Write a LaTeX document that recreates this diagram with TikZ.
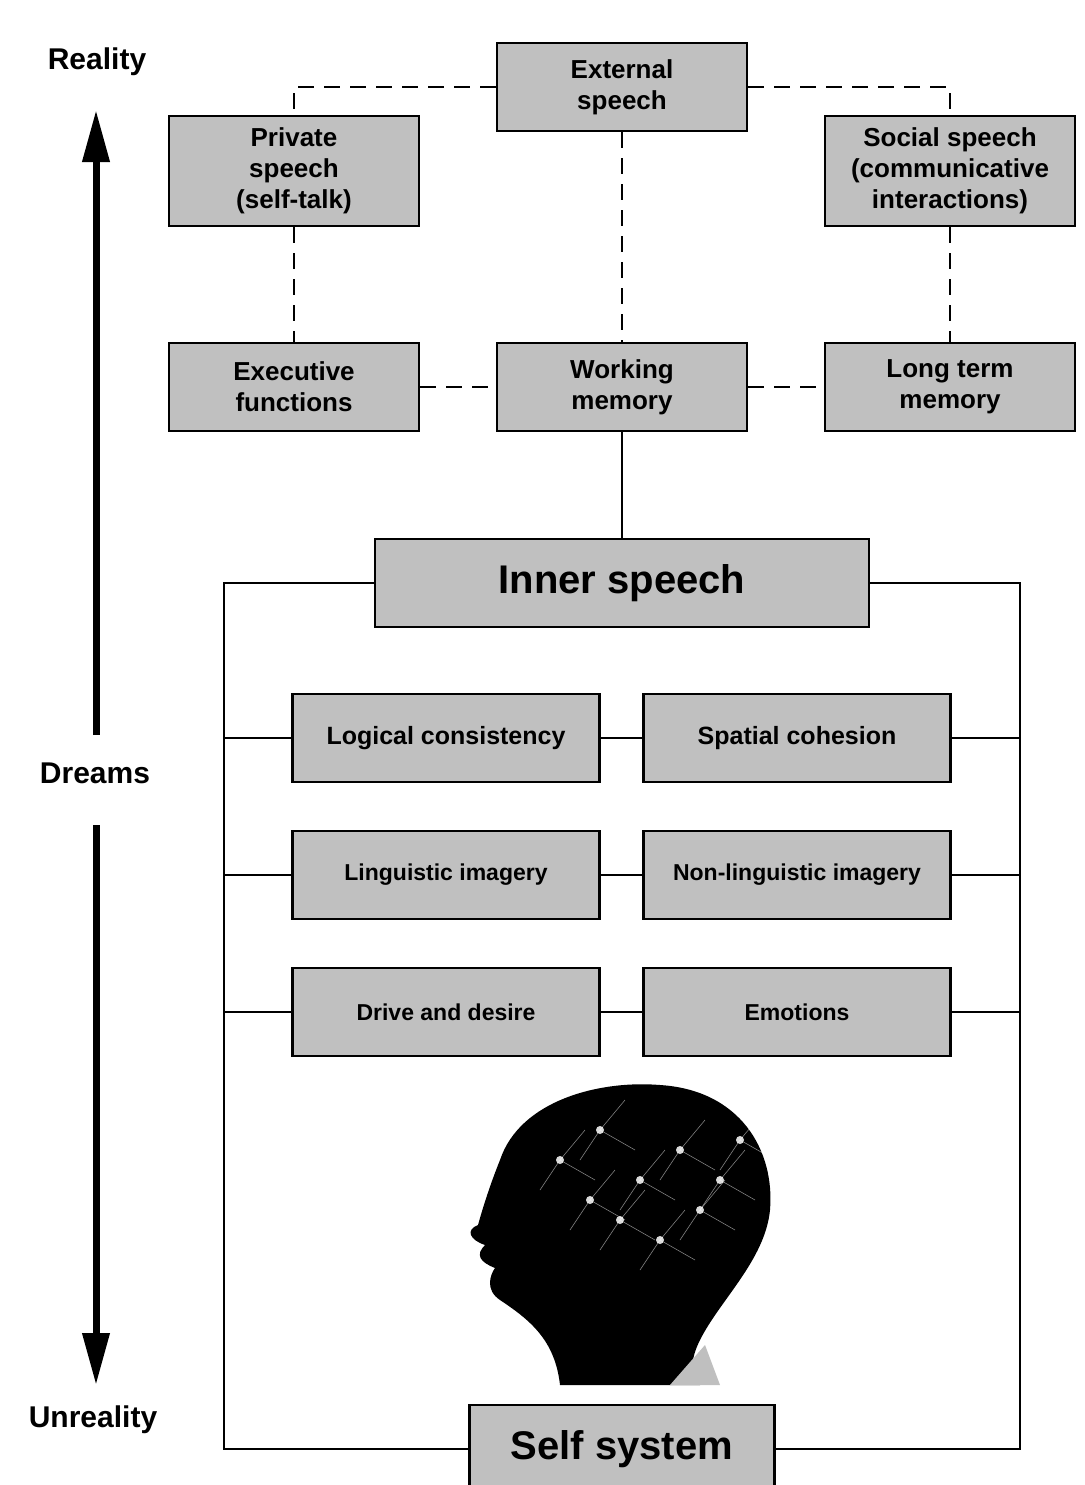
\documentclass[tikz,border=0pt]{standalone}
\usepackage{fontspec}
\setmainfont{Liberation Sans}
\usetikzlibrary{arrows.meta}
\tikzset{
  box/.style={draw, line width=2.4pt, fill={rgb,255:red,192;green,192;blue,192}, align=center, font=\bfseries\fontsize{26}{31}\selectfont, minimum width=250, minimum height=88, inner sep=0pt},
  wbox/.style={box, minimum width=307, font=\bfseries\fontsize{23}{27}\selectfont},
  dashlink/.style={line width=2.4pt, dash pattern=on 16pt off 10pt},
  link/.style={line width=2.4pt},
  side/.style={font=\bfseries\fontsize{30}{34}\selectfont}
}
\begin{document}
\begin{tikzpicture}[x=1pt,y=-1pt]
\useasboundingbox (0,0) rectangle (1084,1485);

% upper level
\node[box] (ext) at (622,87) {External\\speech};
\node[box, minimum height=110] (priv) at (294,171) {Private\\speech\\(self-talk)};
\node[box, minimum height=110] (soc) at (950,171) {Social speech\\(communicative\\interactions)};
\node[box] (exe) at (294,387) {Executive\\functions};
\node[box] (wm) at (622,387) {Working\\memory};
\node[box] (ltm) at (950,387) {Long term\\memory};

% inner speech and its parts
\node[box, minimum width=494, minimum height=88, font=\bfseries\fontsize{40}{46}\selectfont] (inner) at (622,583) {Inner speech};
\node[wbox, font=\bfseries\fontsize{25}{29}\selectfont] (logic) at (446,738) {Logical consistency};
\node[wbox, font=\bfseries\fontsize{25}{29}\selectfont] (space) at (797,738) {Spatial cohesion};
\node[wbox] (ling) at (446,875) {Linguistic imagery};
\node[wbox] (nonl) at (797,875) {Non-linguistic imagery};
\node[wbox] (drive) at (446,1012) {Drive and desire};
\node[wbox] (emo) at (797,1012) {Emotions};
\node[box, minimum width=305, font=\bfseries\fontsize{40}{46}\selectfont] (self) at (622,1449) {Self system};

% side scale
\node[side] (real) at (97,62) {Reality};
\node[side] (dream) at (95,773) {Dreams};
\node[side] (unreal) at (93,1420) {Unreality};
\draw[line width=7pt, -{Triangle[width=26pt,length=52pt]}] (96,735) -- (96,110);
\draw[line width=7pt, -{Triangle[width=26pt,length=52pt]}] (96,825) -- (96,1385);

% dashed links
\draw[dashlink] (ext.west) -| (priv.north);
\draw[dashlink] (ext.east) -| (soc.north);
\draw[dashlink] (ext.south) -- (wm.north);
\draw[dashlink] (priv.south) -- (exe.north);
\draw[dashlink] (soc.south) -- (ltm.north);
\draw[dashlink] (exe.east) -- (wm.west);
\draw[dashlink] (wm.east) -- (ltm.west);

% solid links
\draw[link] (wm.south) -- (inner.north);
\coordinate (fl) at (224,583);
\coordinate (fr) at (1020,583);
\draw[link] (inner.west) -- (fl) -- (fl |- self.west) -- (self.west);
\draw[link] (inner.east) -- (fr) -- (fr |- self.east) -- (self.east);
\foreach \a/\b in {logic/space, ling/nonl, drive/emo}{
  \draw[link] (fl |- \a.west) -- (\a.west);
  \draw[link] (\a.east) -- (\b.west);
  \draw[link] (\b.east) -- (fr |- \b.east);
}

% head
\fill[black] (560,1385) .. controls (555,1340) and (530,1320) .. (500,1300)
  .. controls (485,1290) and (490,1275) .. (495,1268)
  .. controls (480,1262) and (475,1255) .. (485,1245)
  .. controls (470,1240) and (465,1230) .. (478,1225)
  .. controls (485,1200) and (492,1180) .. (500,1160)
  .. controls (520,1100) and (600,1080) .. (660,1085)
  .. controls (740,1090) and (775,1150) .. (770,1210)
  .. controls (765,1260) and (720,1300) .. (700,1340)
  .. controls (690,1360) and (690,1375) .. (700,1385) -- cycle;
\fill[gray!50] (670,1385) -- (705,1345) -- (720,1385) -- cycle;
\foreach \x/\y in {560/1160, 600/1130, 640/1180, 680/1150, 700/1210, 620/1220, 660/1240, 720/1180, 590/1200, 740/1140}{
  \fill[white, opacity=0.85] (\x,\y) circle (4);
  \draw[white, opacity=0.5, line width=0.6pt] (\x,\y) -- ++(35,20) (\x,\y) -- ++(-20,30) (\x,\y) -- ++(25,-30);
}
\end{tikzpicture}
\end{document}
